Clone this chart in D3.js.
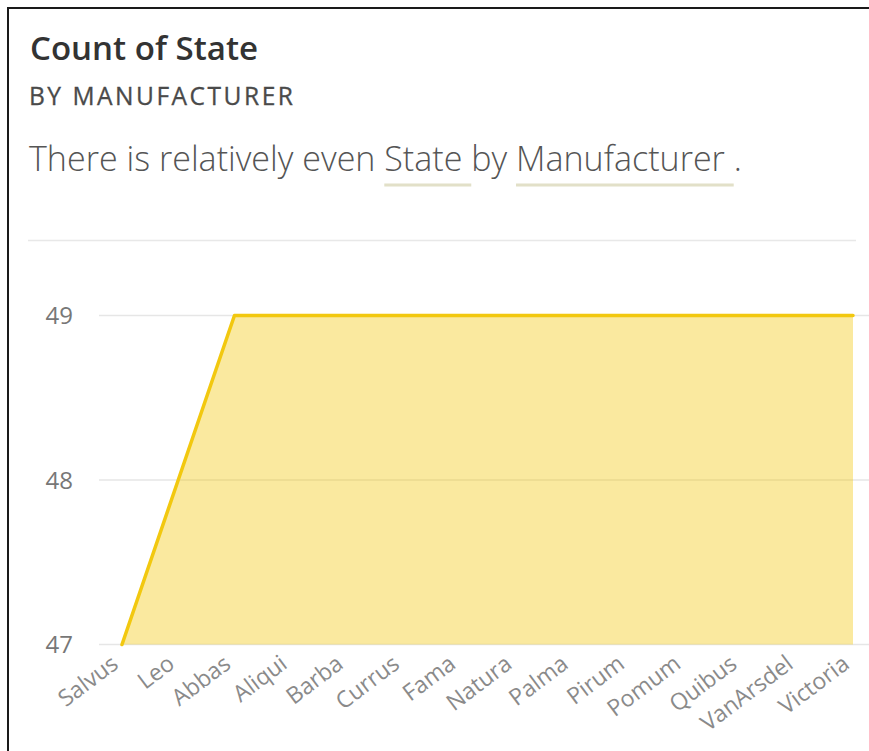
<!DOCTYPE html>
<html>
<head>
<meta charset="utf-8">
<script src="https://cdn.jsdelivr.net/npm/d3@7"></script>
<style>
  html, body { margin: 0; padding: 0; background: #fff; }
  svg { display: block; }
</style>
</head>
<body>
<svg id="chart" width="869" height="751"></svg>
<script>
// ---- data ----
const categories = ["Salvus","Leo","Abbas","Aliqui","Barba","Currus","Fama","Natura","Palma","Pirum","Pomum","Quibus","VanArsdel","Victoria"];
const countOfState = [47,48,49,49,49,49,49,49,49,49,49,49,49,49];
const yTickValues = [47,48,49];
const titleText = "Count of State";
const subtitleText = "BY MANUFACTURER";
const insightParts = ["There is relatively even ", "State", " by ", "Manufacturer", " ."];

const svg = d3.select("#chart");
const W = 869, H = 751;

svg.append("rect").attr("x",0).attr("y",0).attr("width",W).attr("height",H).attr("fill","#fff");
// frame
svg.append("rect").attr("x",8).attr("y",8).attr("width",W+20).attr("height",H+20)
  .attr("fill","none").attr("stroke","#1a1a1a").attr("stroke-width",2);

function fit(t, w) {
  const l = t.node().getComputedTextLength();
  const fs = parseFloat(t.attr("font-size"));
  t.attr("font-size", (fs * w / l).toFixed(2));
}

// title
const title = svg.append("text").attr("x",30).attr("y",60)
  .attr("font-family","'Open Sans', sans-serif").attr("font-weight",600)
  .attr("font-size",32).attr("fill","#333").text(titleText);
fit(title, 228);

const sub = svg.append("text").attr("x",29).attr("y",105)
  .attr("font-family","'Open Sans', sans-serif").attr("font-weight",500)
  .attr("font-size",20).attr("letter-spacing","2.5px").attr("fill","#4a4a4a")
  .attr("stroke","#4a4a4a").attr("stroke-width",0.3).text(subtitleText);
fit(sub, 275);

// insight
const insight = svg.append("text").attr("x",29).attr("y",171)
  .attr("font-family","'Open Sans', sans-serif").attr("font-weight",300)
  .attr("font-size",32).attr("fill","#555").text(insightParts.join(""));
fit(insight, 713);
{
  const full = insightParts.join("");
  const node = insight.node();
  const underline = (word) => {
    const i = full.indexOf(word);
    const x0 = node.getStartPositionOfChar(i).x;
    const x1 = node.getEndPositionOfChar(i + word.length).x; // include trailing space
    svg.append("line").attr("x1",x0).attr("x2",x1).attr("y1",185).attr("y2",185)
      .attr("stroke","#E2E0C8").attr("stroke-width",3);
  };
  underline("State");
  underline("Manufacturer");
}

// separator
svg.append("line").attr("x1",28).attr("x2",856).attr("y1",240.5).attr("y2",240.5)
  .attr("stroke","#e8e8e8").attr("stroke-width",1.5);

// scales
const x = d3.scalePoint().domain(categories).range([122, 853]);
const y = d3.scaleLinear().domain([47, 49]).range([644.5, 315.5]);

// gridlines
svg.append("g").selectAll("line").data(yTickValues).join("line")
  .attr("x1",99).attr("x2",W).attr("y1",d=>y(d)).attr("y2",d=>y(d))
  .attr("stroke","#e6e6e6").attr("stroke-width",1.5);

// y axis
const yAxis = svg.append("g").attr("transform","translate(73,0)")
  .call(d3.axisLeft(y).tickValues(yTickValues).tickSize(0).tickPadding(0).tickFormat(d3.format("d")));
yAxis.select(".domain").remove();
yAxis.selectAll("text").attr("font-family","'Open Sans', sans-serif").attr("font-size",24)
  .attr("fill","#777").attr("dy","0.35em");

// area + line
const area = d3.area().x((d,i)=>x(categories[i])).y0(y(47)).y1(d=>y(d));
const line = d3.line().x((d,i)=>x(categories[i])).y(d=>y(d));
svg.append("path").datum(countOfState).attr("d",area).attr("fill","#F2C80F").attr("fill-opacity",0.4);
svg.append("path").datum(countOfState).attr("d",line).attr("fill","none")
  .attr("stroke","#F2C80F").attr("stroke-width",3.5).attr("stroke-linecap","round").attr("stroke-linejoin","round");

// x axis
const xAxis = svg.append("g").attr("transform","translate(0,650)")
  .call(d3.axisBottom(x).tickSize(0).tickPadding(0));
xAxis.select(".domain").remove();
xAxis.selectAll("text")
  .attr("font-family","'Open Sans', sans-serif").attr("font-size",23).attr("fill","#8a8a8a")
  .attr("text-anchor","end").attr("dy","0.75em").attr("y",0)
  .attr("transform","translate(-13,3) rotate(-37)");
</script>
</body>
</html>
